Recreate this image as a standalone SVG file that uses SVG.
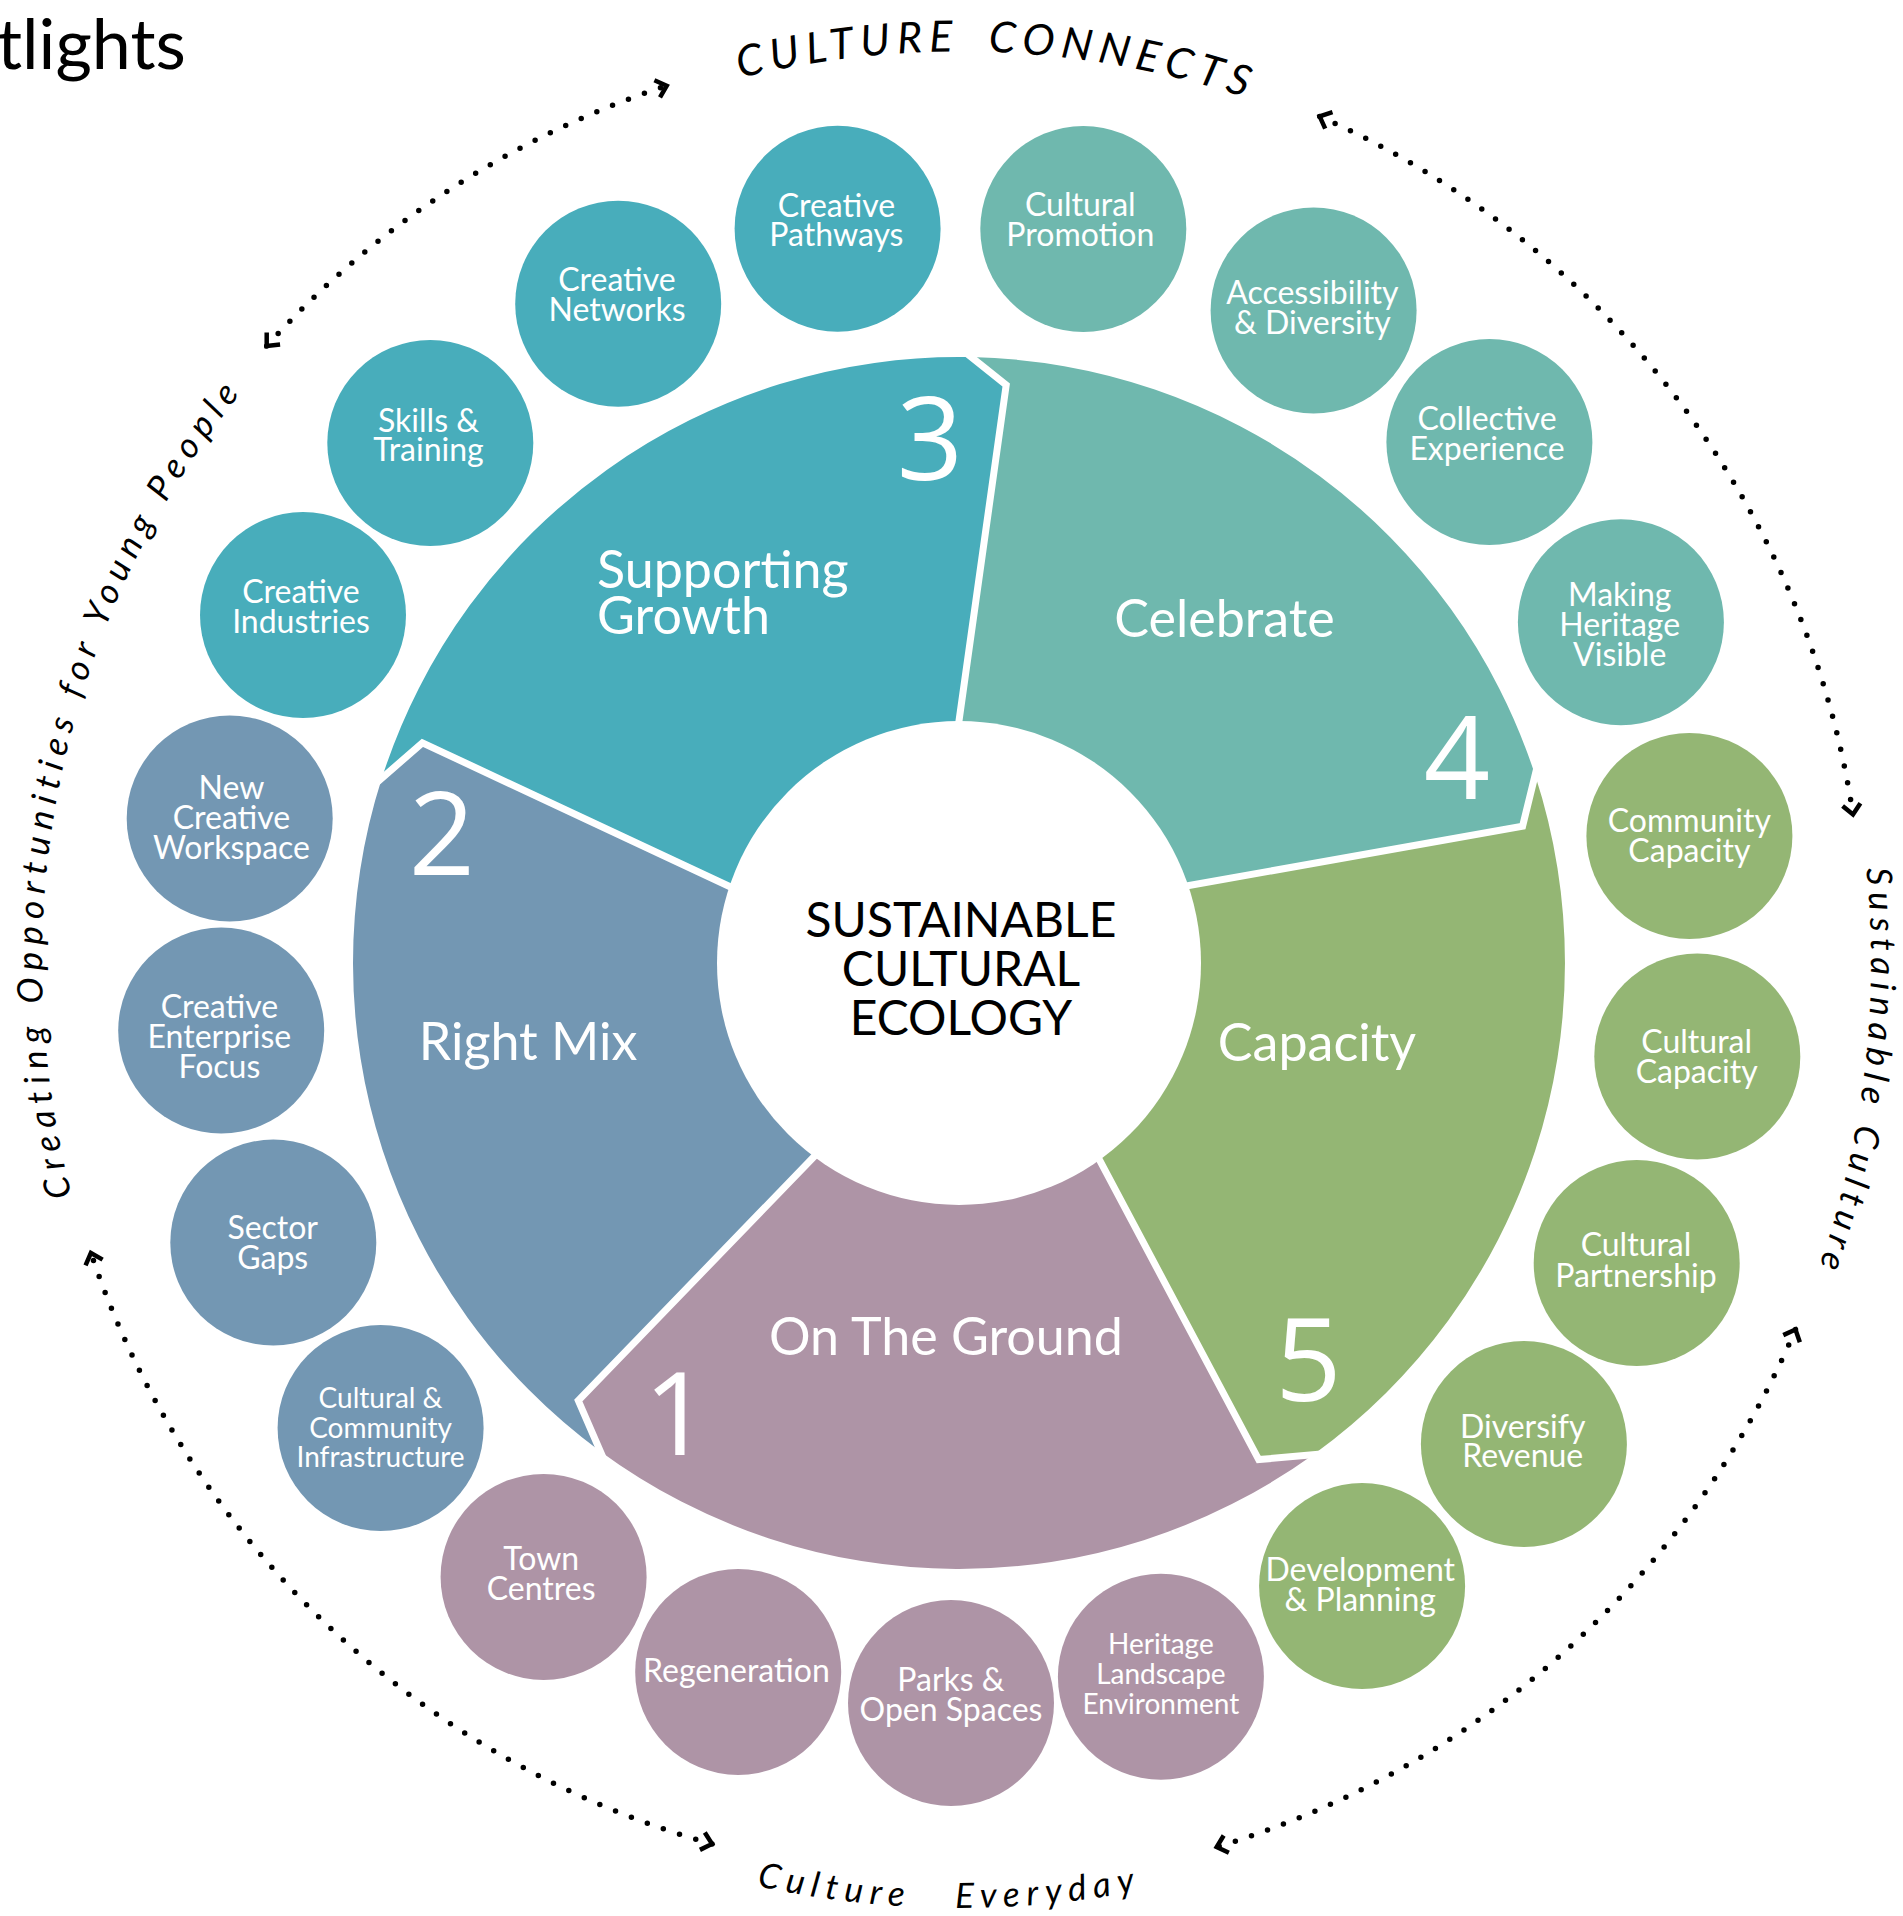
<svg xmlns="http://www.w3.org/2000/svg" width="1903" height="1916" viewBox="0 0 1903 1916">
<style>
.t{font-family:Lato,"Open Sans","Liberation Sans",sans-serif}
.lbl{font-family:Lato,"Open Sans","Liberation Sans",sans-serif;fill:#fff;text-anchor:middle;font-size:32px}
.sm{font-size:28px}
.seg{font-family:Lato,"Open Sans","Liberation Sans",sans-serif;fill:#fff;font-size:52px}
.num{font-family:"Open Sans","Noto Sans","Liberation Sans",sans-serif;fill:#fff;font-size:116px;text-anchor:middle}
.ctr{font-family:Lato,"Open Sans","Liberation Sans",sans-serif;fill:#000;font-size:48px;text-anchor:middle}
.arct{font-family:Lato,"Open Sans","Liberation Sans",sans-serif;font-style:italic;fill:#000;font-size:35px;letter-spacing:7px;text-anchor:middle}
.dots{fill:none;stroke:#000;stroke-width:5.5;stroke-linecap:round;stroke-dasharray:0 17;marker-start:url(#chev);marker-end:url(#chev)}
.sep{fill:none;stroke:#fff;stroke-width:7;stroke-linejoin:miter}
.teal{fill:#48adbb}
.lteal{fill:#6fb8ae}
.green{fill:#94b674}
.blue{fill:#7397b3}
.mauve{fill:#ae94a6}
</style>
<defs>
<marker id="chev" markerUnits="userSpaceOnUse" viewBox="-20 -20 40 40" markerWidth="40" markerHeight="40" refX="0" refY="0" orient="auto-start-reverse" overflow="visible">
<path d="M -10 -9 L 0 0 L -10 9" fill="none" stroke="#000" stroke-width="4.5"/>
</marker>
<path id="pTop" d="M 189.4 474.6 A 911.5 911.5 0 0 1 1766.8 540.7"/>
<path id="pLeft" d="M 344.9 1644 A 917 917 0 0 1 676.4 90.6"/>
<path id="pRight" d="M 1507 234 A 912 912 0 0 1 1316.1 1802.2"/>
<path id="pBottom" d="M 135.8 1427.1 A 945 945 0 0 0 1772.5 1443.8"/>
</defs>

<text class="t" x="-3" y="69" font-size="70" fill="#000">tlights</text>

<g id="wheel">
<g id="seg-3-supporting-growth">
<path class="teal" d="M 752 897 L 422.4 742.8 L 381.9 778.1 A 606 606 0 0 1 971.2 357.1 L 1006.2 384.9 L 955.5 745.8 Z"/>
</g>
<g id="seg-4-celebrate">
<path class="lteal" d="M 955.5 745.8 L 1006.2 384.9 L 971.2 357.1 A 606 606 0 0 1 1535.1 775.1 L 1522.6 826.2 L 1163.7 890 Z"/>
</g>
<g id="seg-5-capacity">
<path class="green" d="M 1163.7 890 L 1522.6 826.2 L 1535.1 775.1 A 606 606 0 0 1 1313.2 1454.7 L 1258.7 1459.6 L 1087.8 1137.9 Z"/>
</g>
<g id="seg-1-on-the-ground">
<path class="mauve" d="M 1087.8 1137.9 L 1258.7 1459.6 L 1313.2 1454.7 A 606 606 0 0 1 600.4 1451.5 L 578.3 1400.6 L 831.3 1138.7 Z"/>
</g>
<g id="seg-2-right-mix">
<path class="blue" d="M 831.3 1138.7 L 578.3 1400.6 L 600.4 1451.5 A 606 606 0 0 1 381.9 778.1 L 422.4 742.8 L 752 897 Z"/>
</g>
<g id="separators">
<polyline class="sep" points="955.5,745.8 1006.2,384.9 964.9,352.1"/>
<polyline class="sep" points="1163.7,890 1522.6,826.2 1537,767.3"/>
<polyline class="sep" points="1087.8,1137.9 1258.7,1459.6 1321.2,1454"/>
<polyline class="sep" points="831.3,1138.7 578.3,1400.6 603.6,1458.8"/>
<polyline class="sep" points="752,897 422.4,742.8 375.9,783.4"/>
</g>
<g id="centre">
<circle cx="959" cy="963" r="242" fill="#fff"/>
<text class="ctr"><tspan x="961" y="937">SUSTAINABLE</tspan><tspan x="961" y="986">CULTURAL</tspan><tspan x="961" y="1035">ECOLOGY</tspan></text>
</g>
<g id="seg-labels">
<text class="seg"><tspan x="597" y="588">Supporting</tspan><tspan x="597" y="634">Growth</tspan></text>
<text class="seg" x="1224.5" y="637" text-anchor="middle">Celebrate</text>
<text class="seg" x="528" y="1060" text-anchor="middle">Right Mix</text>
<text class="seg" x="1317" y="1061" text-anchor="middle">Capacity</text>
<text class="seg" x="946" y="1355" text-anchor="middle">On The Ground</text>
<text class="num" x="930" y="480">3</text>
<text class="num" x="442" y="875">2</text>
<text class="num" x="1457" y="799">4</text>
<text class="num" x="1308.5" y="1401">5</text>
<text class="num" x="677" y="1455">1</text>
</g>
</g>

<g id="n-creative-pathways"><circle class="teal" cx="837.6" cy="228.7" r="103"/><text class="lbl"><tspan x="836.4" y="217">Creative</tspan><tspan x="836.4" y="246">Pathways</tspan></text></g>
<g id="n-creative-networks"><circle class="teal" cx="618.2" cy="303.7" r="103"/><text class="lbl"><tspan x="617" y="291">Creative</tspan><tspan x="617" y="321">Networks</tspan></text></g>
<g id="n-skills-training"><circle class="teal" cx="430.3" cy="443" r="103"/><text class="lbl"><tspan x="428.5" y="432">Skills &amp;</tspan><tspan x="428.5" y="461">Training</tspan></text></g>
<g id="n-creative-industries"><circle class="teal" cx="303" cy="615.1" r="103"/><text class="lbl"><tspan x="301" y="603">Creative</tspan><tspan x="301" y="633">Industries</tspan></text></g>
<g id="n-new-creative-workspace"><circle class="blue" cx="229.7" cy="818.4" r="103"/><text class="lbl"><tspan x="231.5" y="799">New</tspan><tspan x="231.5" y="829">Creative</tspan><tspan x="231.5" y="859">Workspace</tspan></text></g>
<g id="n-creative-enterprise-focus"><circle class="blue" cx="221.2" cy="1030.6" r="103"/><text class="lbl"><tspan x="219.4" y="1018">Creative</tspan><tspan x="219.4" y="1048">Enterprise</tspan><tspan x="219.4" y="1078">Focus</tspan></text></g>
<g id="n-sector-gaps"><circle class="blue" cx="273.3" cy="1242.6" r="103"/><text class="lbl"><tspan x="272.7" y="1239">Sector</tspan><tspan x="272.7" y="1269">Gaps</tspan></text></g>
<g id="n-cultural-community-infrastructure"><circle class="blue" cx="380.6" cy="1428.1" r="103"/><text class="lbl sm"><tspan x="380.6" y="1408">Cultural &amp;</tspan><tspan x="380.6" y="1438">Community</tspan><tspan x="380.6" y="1467">Infrastructure</tspan></text></g>
<g id="n-town-centres"><circle class="mauve" cx="543.6" cy="1576.9" r="103"/><text class="lbl"><tspan x="541.2" y="1570">Town</tspan><tspan x="541.2" y="1600">Centres</tspan></text></g>
<g id="n-regeneration"><circle class="mauve" cx="738.2" cy="1671.9" r="103"/><text class="lbl" x="736.4" y="1682">Regeneration</text></g>
<g id="n-parks-open-spaces"><circle class="mauve" cx="951" cy="1703" r="103"/><text class="lbl"><tspan x="951" y="1691">Parks &amp;</tspan><tspan x="951" y="1721">Open Spaces</tspan></text></g>
<g id="n-heritage-landscape-environment"><circle class="mauve" cx="1160.9" cy="1676.8" r="103"/><text class="lbl sm"><tspan x="1160.9" y="1654">Heritage</tspan><tspan x="1160.9" y="1684">Landscape</tspan><tspan x="1160.9" y="1714">Environment</tspan></text></g>
<g id="n-development-planning"><circle class="green" cx="1362.1" cy="1586.1" r="103"/><text class="lbl"><tspan x="1360.3" y="1581">Development</tspan><tspan x="1360.3" y="1611">&amp; Planning</tspan></text></g>
<g id="n-diversify-revenue"><circle class="green" cx="1523.9" cy="1444" r="103"/><text class="lbl"><tspan x="1522.7" y="1438">Diversify</tspan><tspan x="1522.7" y="1467">Revenue</tspan></text></g>
<g id="n-cultural-partnership"><circle class="green" cx="1636.7" cy="1263.1" r="103"/><text class="lbl"><tspan x="1636" y="1256">Cultural</tspan><tspan x="1636" y="1287">Partnership</tspan></text></g>
<g id="n-cultural-capacity"><circle class="green" cx="1697.3" cy="1056.4" r="103"/><text class="lbl"><tspan x="1696.7" y="1053">Cultural</tspan><tspan x="1696.7" y="1083">Capacity</tspan></text></g>
<g id="n-community-capacity"><circle class="green" cx="1689.4" cy="835.9" r="103"/><text class="lbl"><tspan x="1689.4" y="832">Community</tspan><tspan x="1689.4" y="862">Capacity</tspan></text></g>
<g id="n-making-heritage-visible"><circle class="lteal" cx="1620.9" cy="622.2" r="103"/><text class="lbl"><tspan x="1619.7" y="606">Making</tspan><tspan x="1619.7" y="636">Heritage</tspan><tspan x="1619.7" y="666">Visible</tspan></text></g>
<g id="n-collective-experience"><circle class="lteal" cx="1489.4" cy="442.1" r="103"/><text class="lbl"><tspan x="1487" y="430">Collective</tspan><tspan x="1487" y="460">Experience</tspan></text></g>
<g id="n-accessibility-diversity"><circle class="lteal" cx="1313.6" cy="310.5" r="103"/><text class="lbl"><tspan x="1312.4" y="304">Accessibility</tspan><tspan x="1312.4" y="334">&amp; Diversity</tspan></text></g>
<g id="n-cultural-promotion"><circle class="lteal" cx="1083.3" cy="229" r="103"/><text class="lbl"><tspan x="1080.3" y="216">Cultural</tspan><tspan x="1080.3" y="246">Promotion</tspan></text></g>

<g id="connectors">
<path class="dots" d="M 266.7 346 A 926 926 0 0 1 666.7 85.7"/>
<path class="dots" d="M 1319.7 116.4 A 913 913 0 0 1 1853 814.5"/>
<path class="dots" d="M 1795.5 1329.5 A 917 917 0 0 1 1216.7 1847"/>
<path class="dots" d="M 712 1843.9 A 915 915 0 0 1 90.9 1253"/>
</g>

<g id="ring-labels">
<text class="arct" style="font-size:43px;letter-spacing:6.8px;word-spacing:12px"><textPath href="#pTop" startOffset="50%">CULTURE CONNECTS</textPath></text>
<text class="arct" style="letter-spacing:7px"><textPath href="#pLeft" startOffset="50%">Creating Opportunities for Young People</textPath></text>
<text class="arct" style="letter-spacing:6.7px"><textPath href="#pRight" startOffset="50%">Sustainable Culture</textPath></text>
<text class="arct" style="word-spacing:29px"><textPath href="#pBottom" startOffset="50%">Culture Everyday</textPath></text>
</g>
</svg>
